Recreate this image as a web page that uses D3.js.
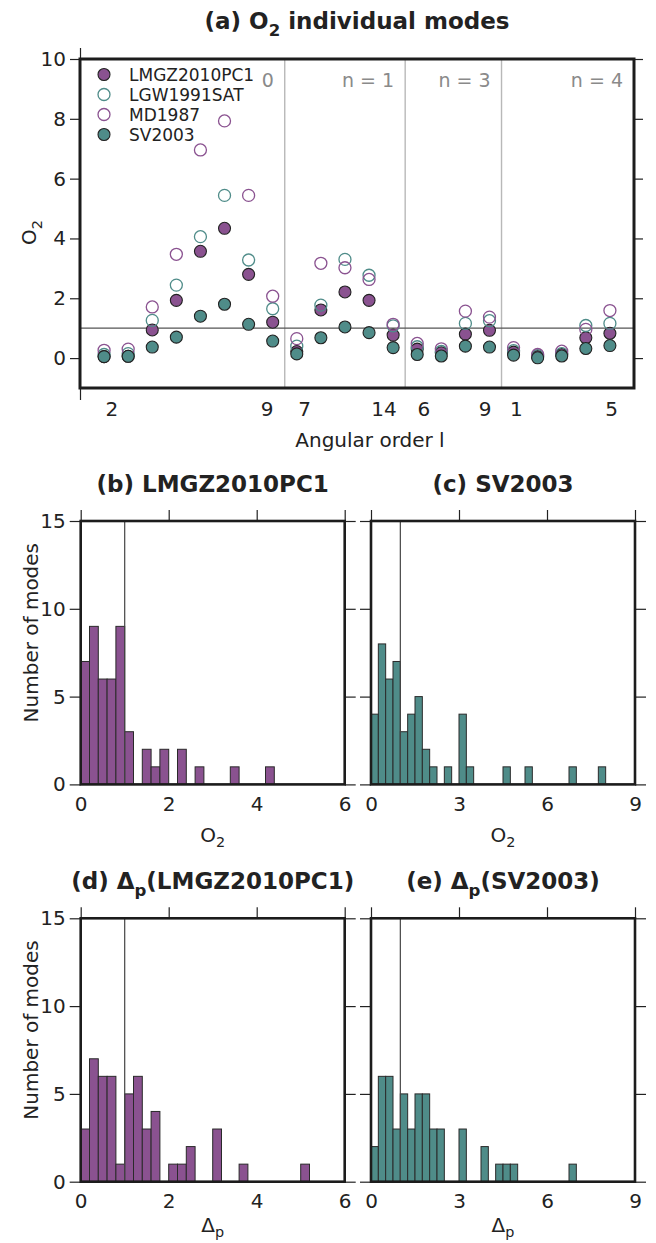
<!DOCTYPE html>
<head>
<meta charset="utf-8">
<style>
body { margin: 0; background: #fff; }
svg text { font-family: "DejaVu Sans", sans-serif; fill: #222; }
.tick line { stroke: #222; stroke-width: 1.2; }
.tick text { font-size: 20px; fill: #222; }
</style>
</head>
<body>
<svg id="fig" width="656" height="1243"></svg>
<script src="https://d3js.org/d3.v7.min.js"></script>
<script>

// ---- panel (a) data: O2 per mode, modes ordered by n then l ----
const modeIndex = d3.range(22)
const lmgz = [0.05, 0.06, 0.94, 1.93, 3.57, 4.34, 2.80, 1.20, 0.22, 1.61, 2.21, 1.93, 0.77, 0.30, 0.18, 0.80, 0.93, 0.20, 0.05, 0.12, 0.68, 0.83]
const lgw  = [0.12, 0.15, 1.26, 2.44, 4.06, 5.44, 3.28, 1.65, 0.40, 1.77, 3.30, 2.77, 1.08, 0.38, 0.22, 1.16, 1.25, 0.25, 0.08, 0.15, 1.09, 1.16]
const md   = [0.26, 0.30, 1.71, 3.47, 6.96, 7.93, 5.44, 2.07, 0.65, 3.17, 3.02, 2.63, 1.13, 0.49, 0.31, 1.57, 1.37, 0.35, 0.12, 0.23, 0.96, 1.59]
const sv   = [0.05, 0.06, 0.37, 0.70, 1.40, 1.80, 1.13, 0.57, 0.14, 0.68, 1.04, 0.85, 0.35, 0.12, 0.07, 0.40, 0.37, 0.10, 0.01, 0.07, 0.32, 0.42]
const segmentBreaks = [7.5, 12.5, 16.5]
const segmentEnds = [7.5, 12.5, 16.5, 22]
// the "n = " of the first segment is hidden behind the legend, only "0" shows
const segmentLabels = ['0', 'n = 1', 'n = 3', 'n = 4']
const lTickPos = [0.3, 6.75, 8.3, 11.6, 13.25, 15.8, 17.1, 21.05]
const lTickText = ['2', '9', '7', '14', '6', '9', '1', '5']
const o2Ticks = [0, 2, 4, 6, 8, 10]

// ---- histogram data (counts per bin) ----
const lmgzO2Counts = [7, 9, 6, 6, 9, 3, 0, 2, 1, 2, 0, 2, 0, 1, 0, 0, 0, 1, 0, 0, 0, 1, 0, 0, 0, 0, 0, 0, 0, 0]
const svO2Counts   = [4, 8, 6, 7, 3, 4, 5, 2, 1, 0, 1, 0, 4, 1, 0, 0, 0, 0, 1, 0, 0, 1, 0, 0, 0, 0, 0, 1, 0, 0, 0, 1, 0, 0, 0, 0]
const lmgzDpCounts = [3, 7, 6, 6, 1, 5, 6, 3, 4, 0, 1, 1, 2, 0, 0, 3, 0, 0, 1, 0, 0, 0, 0, 0, 0, 1, 0, 0, 0, 0]
const svDpCounts   = [2, 6, 6, 3, 5, 3, 5, 5, 3, 3, 0, 0, 3, 0, 0, 2, 0, 1, 1, 1, 0, 0, 0, 0, 0, 0, 0, 1, 0, 0, 0, 0, 0, 0, 0, 0]
const countTicks = [0, 5, 10, 15]
const ticks6 = [0, 2, 4, 6]
const ticks9 = [0, 3, 6, 9]

const purple = '#8a5290'
const teal = '#4f8c89'
const ink = '#222'

const svg = d3.select('#fig')

function richText(sel, parts, size, shift = 0.3) {
  let shifted = false
  parts.forEach(p => {
    const t = sel.append('tspan').text(p.t)
    if (p.sub) {
      t.attr('font-size', size * 0.72).attr('dy', size * shift)
      shifted = true
    } else if (shifted) {
      t.attr('dy', -size * shift)
      shifted = false
    }
  })
  return sel
}

function title(x, y, parts) {
  const t = svg.append('text')
    .attr('x', x).attr('y', y)
    .attr('text-anchor', 'middle')
    .style('font-size', '23px')
    .style('font-weight', 'bold')
  richText(t, parts, 23)
}

function cleanAxis(g) {
  g.select('.domain').remove()
}

// ================= panel (a) =================
function panelA() {
  const x = d3.scaleLinear().domain([-1, 22]).range([80, 634])
  const y = d3.scaleLinear().domain([-1, 10]).range([388, 59])
  const g = svg.append('g')

  // left / right ticks
  g.append('g').attr('transform', `translate(${x(-1)},0)`)
    .call(d3.axisLeft(y).tickValues(o2Ticks).tickSize(10).tickPadding(4))
    .call(cleanAxis)
  g.append('g').attr('transform', `translate(${x(22)},0)`)
    .call(d3.axisRight(y).tickValues(o2Ticks).tickSize(9).tickFormat(''))
    .call(cleanAxis)
  // corner ticks of top / bottom axes
  g.append('g').attr('transform', `translate(0,${y(10)})`)
    .call(d3.axisTop(x).tickValues([-1]).tickSize(11).tickFormat(''))
    .call(cleanAxis)
  g.append('g').attr('transform', `translate(0,${y(-1)})`)
    .call(d3.axisBottom(x).tickValues([-1]).tickSize(12).tickFormat(''))
    .call(cleanAxis)
  // angular order labels
  g.append('g').attr('transform', `translate(0,${y(-1)})`)
    .call(d3.axisBottom(x).tickValues(lTickPos).tickSize(0).tickPadding(14)
      .tickFormat((d, i) => lTickText[i]))
    .call(cleanAxis)

  // segment separators
  g.selectAll('line.sep').data(segmentBreaks).enter().append('line')
    .attr('x1', d => x(d)).attr('x2', d => x(d))
    .attr('y1', y(-1)).attr('y2', y(10))
    .style('stroke', '#b8b8b8').style('stroke-width', 1.4)

  // n labels
  g.selectAll('text.nlab').data(segmentLabels).enter().append('text')
    .attr('x', (d, i) => x(segmentEnds[i]) - 11)
    .attr('y', y(9.08))
    .attr('text-anchor', 'end')
    .style('font-size', '19px')
    .style('fill', '#8a8a8a')
    .text(d => d)

  // O2 = 1 reference line
  g.append('line')
    .attr('x1', x(-1)).attr('x2', x(22))
    .attr('y1', y(1)).attr('y2', y(1))
    .style('stroke', '#555').style('stroke-width', 1.3)

  const series = [
    {name: 'LMGZ2010PC1', vals: lmgz, fill: purple, stroke: ink},
    {name: 'LGW1991SAT', vals: lgw, fill: 'none', stroke: teal},
    {name: 'MD1987', vals: md, fill: 'none', stroke: purple},
    {name: 'SV2003', vals: sv, fill: teal, stroke: ink}
  ]
  series.forEach(s => {
    g.append('g').selectAll('circle').data(modeIndex).enter().append('circle')
      .attr('cx', d => x(d)).attr('cy', d => y(s.vals[d])).attr('r', 6)
      .style('fill', s.fill).style('stroke', s.stroke)
      .style('stroke-width', s.fill === 'none' ? 1.3 : 1.1)
  })

  // legend entries
  const leg = g.append('g').selectAll('g').data(series).enter().append('g')
    .attr('transform', (d, i) => `translate(104,${74.5 + i * 20})`)
  leg.append('circle').attr('r', 6)
    .style('fill', d => d.fill).style('stroke', d => d.stroke)
    .style('stroke-width', d => d.fill === 'none' ? 1.3 : 1.1)
  leg.append('text').attr('x', 25).attr('y', 6.5)
    .style('font-size', '17px').text(d => d.name)

  // frame
  g.append('rect').attr('x', x(-1)).attr('y', y(10))
    .attr('width', x(22) - x(-1)).attr('height', y(-1) - y(10))
    .style('fill', 'none').style('stroke', '#1c1c1c').style('stroke-width', 3)

  // axis titles
  svg.append('text').attr('x', (x(-1) + x(22)) / 2 + 13).attr('y', 447)
    .attr('text-anchor', 'middle').style('font-size', '20px')
    .text('Angular order l')
  richText(svg.append('text')
    .attr('transform', `translate(36,${y(4.2)}) rotate(-90)`)
    .attr('text-anchor', 'middle').style('font-size', '20px'),
    [{t: 'O'}, {t: '2', sub: true}], 20)

  title((x(-1) + x(22)) / 2, 29, [{t: '(a) O'}, {t: '2', sub: true}, {t: ' individual modes'}])
}

// ================= histograms =================
function histogram(o) {
  const x = d3.scaleLinear().domain([0, o.xmax]).range([o.left, o.left + 264])
  const y = d3.scaleLinear().domain([0, 15]).range([o.top + 263.4, o.top])
  const g = svg.append('g')
  const bins = o.counts.map((c, i) => ({x0: i * o.bin, x1: (i + 1) * o.bin, c}))
    .filter(b => b.c > 0)

  g.append('g').selectAll('rect').data(bins).enter().append('rect')
    .attr('x', d => x(d.x0)).attr('width', d => x(d.x1) - x(d.x0))
    .attr('y', d => y(d.c)).attr('height', d => y(0) - y(d.c))
    .style('fill', o.color).style('stroke', '#2a2a2a').style('stroke-width', 1)

  g.append('line')
    .attr('x1', x(1)).attr('x2', x(1)).attr('y1', y(0)).attr('y2', y(15))
    .style('stroke', '#444').style('stroke-width', 1.2)

  const left = d3.axisLeft(y).tickValues(countTicks).tickSize(11).tickPadding(4)
  if (!o.yLabels) left.tickFormat('')
  g.append('g').attr('transform', `translate(${x(0)},0)`).call(left).call(cleanAxis)
  g.append('g').attr('transform', `translate(${x(o.xmax)},0)`)
    .call(d3.axisRight(y).tickValues(countTicks).tickSize(11).tickFormat(''))
    .call(cleanAxis)
  g.append('g').attr('transform', `translate(0,${y(15)})`)
    .call(d3.axisTop(x).tickValues(o.xticks).tickSize(11).tickFormat(''))
    .call(cleanAxis)
  g.append('g').attr('transform', `translate(0,${y(0)})`)
    .call(d3.axisBottom(x).tickValues(o.xticks).tickSize(0).tickPadding(12)
      .tickFormat(d3.format('d')))
    .call(cleanAxis)

  g.append('rect').attr('x', x(0)).attr('y', y(15))
    .attr('width', x(o.xmax) - x(0)).attr('height', y(0) - y(15))
    .style('fill', 'none').style('stroke', '#1c1c1c').style('stroke-width', 2.6)

  const cx = (x(0) + x(o.xmax)) / 2
  richText(g.append('text').attr('x', cx).attr('y', y(0) + o.xLabelDy)
    .attr('text-anchor', 'middle').style('font-size', '20px'), o.xLabel, 20, 0.25)
  if (o.yLabels) {
    g.append('text')
      .attr('transform', `translate(38,${(y(0) + y(15)) / 2 - 20}) rotate(-90)`)
      .attr('text-anchor', 'middle').style('font-size', '20px')
      .text('Number of modes')
  }
  title(cx, o.top - 29, o.title)
}

panelA()

const o2Label = [{t: 'O'}, {t: '2', sub: true}]
const dpLabel = [{t: 'Δ'}, {t: 'p', sub: true}]

histogram({left: 80.7, top: 521, xmax: 6, bin: 0.2, counts: lmgzO2Counts, color: purple,
  xticks: ticks6, yLabels: true, xLabel: o2Label, xLabelDy: 58, title: [{t: '(b) LMGZ2010PC1'}]})
histogram({left: 371, top: 521, xmax: 9, bin: 0.25, counts: svO2Counts, color: teal,
  xticks: ticks9, yLabels: false, xLabel: o2Label, xLabelDy: 58, title: [{t: '(c) SV2003'}]})
histogram({left: 80.7, top: 918.3, xmax: 6, bin: 0.2, counts: lmgzDpCounts, color: purple,
  xticks: ticks6, yLabels: true, xLabel: dpLabel, xLabelDy: 50,
  title: [{t: '(d) Δ'}, {t: 'p', sub: true}, {t: '(LMGZ2010PC1)'}]})
histogram({left: 371, top: 918.3, xmax: 9, bin: 0.25, counts: svDpCounts, color: teal,
  xticks: ticks9, yLabels: false, xLabel: dpLabel, xLabelDy: 50,
  title: [{t: '(e) Δ'}, {t: 'p', sub: true}, {t: '(SV2003)'}]})

</script>
</body>
